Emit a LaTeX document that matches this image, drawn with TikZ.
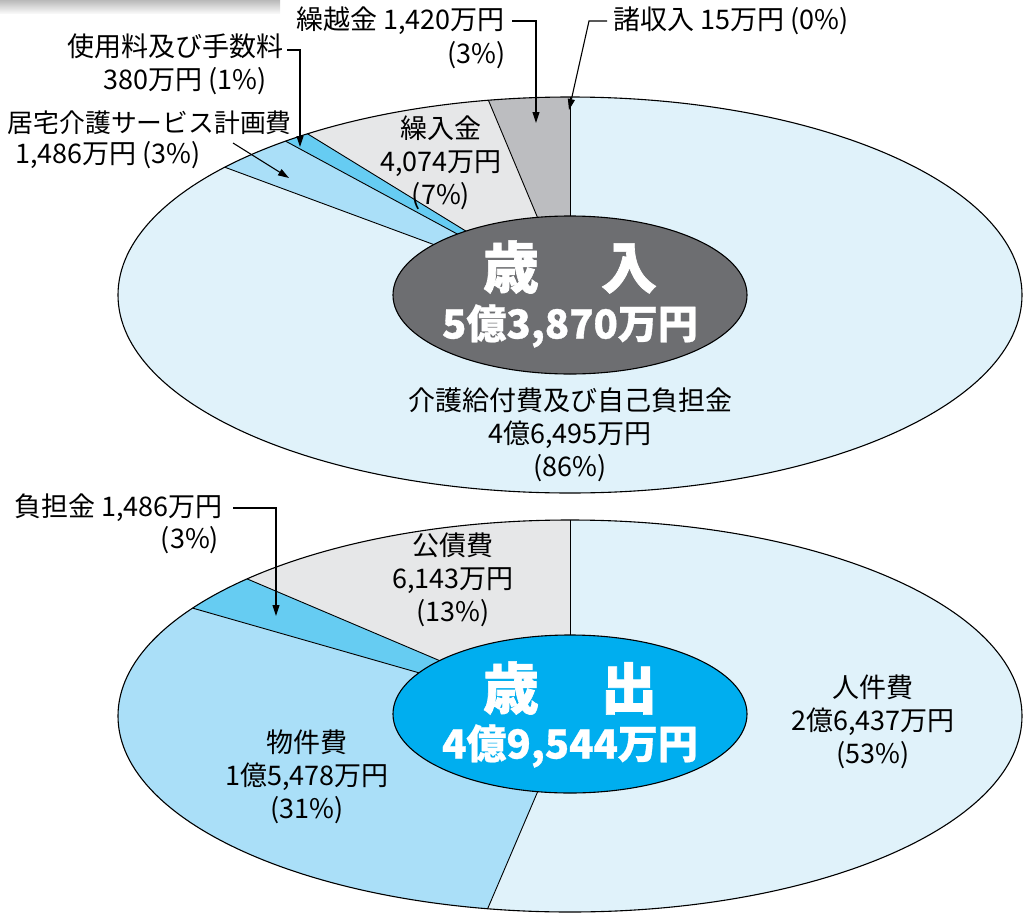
\documentclass[tikz,border=0pt]{standalone}
\usepackage{fontspec}
\setmainfont{Noto Sans CJK JP}
\usetikzlibrary{arrows.meta,calc,shapes.geometric}
\definecolor{pale}{HTML}{E0F2FA}
\definecolor{lblue}{HTML}{AADFF8}
\definecolor{mblue}{HTML}{66CCF2}
\definecolor{lgray}{HTML}{E6E7E8}
\definecolor{dgray}{HTML}{BCBDC0}
\definecolor{coreg}{HTML}{6D6E71}
\definecolor{coreb}{HTML}{00AEEF}
\begin{document}
\begin{tikzpicture}[x=1pt,y=-1pt,
  lbl/.style={inner sep=0pt, font=\fontsize{27}{33}\selectfont, align=center},
  lblsmall/.style={inner sep=0pt, font=\fontsize{25.8}{33}\selectfont, align=center},
  ttl/.style={inner sep=0pt, text=white, font=\bfseries\addfontfeatures{FakeBold=1.2}\fontsize{56}{60}\selectfont},
  amt/.style={inner sep=0pt, text=white, font=\bfseries\addfontfeatures{FakeBold=0.8}\fontsize{40}{44}\selectfont},
  radial/.style={draw=black, line width=0.9pt},
  rim/.style={draw=black, line width=1.1pt},
  leader/.style={draw=black, line width=1.1pt},
  leadarrow/.style={leader, -{Triangle[length=11pt,width=7pt]}},
  core/.style={draw=black, line width=1.1pt, ellipse, minimum width=354pt, minimum height=158pt, inner sep=0pt}]
\useasboundingbox (0,0) rectangle (1026,913);
% top-left gray bar
\shade[top color=gray!55, bottom color=gray!6] (0,0) rectangle (280,13);

% ================= upper pie =================
\coordinate (uc) at (570,295);
\foreach \n/\a in {0/90,1/100.4,2/125.5,3/129.0,4/139.8}
  \coordinate (u\n) at ($(uc)+(\a:452pt and 198pt)$);
\fill[pale] (uc) ellipse [x radius=452pt, y radius=198pt];
\fill[dgray] (uc) -- (u0) arc[start angle=90, end angle=100.4, x radius=452pt, y radius=198pt] -- cycle;
\fill[lgray] (uc) -- (u1) arc[start angle=100.4, end angle=125.5, x radius=452pt, y radius=198pt] -- cycle;
\fill[mblue] (uc) -- (u2) arc[start angle=125.5, end angle=129.0, x radius=452pt, y radius=198pt] -- cycle;
\fill[lblue] (uc) -- (u3) arc[start angle=129.0, end angle=139.8, x radius=452pt, y radius=198pt] -- cycle;
\foreach \n in {0,...,4} \draw[radial] (uc) -- (u\n);
\draw[rim] (uc) ellipse [x radius=452pt, y radius=198pt];
\node[core, fill=coreg] (ucore) at (uc) {};
\node[ttl] (uttl) at (570,267) {歳\hspace{62pt}入};
\node[amt] (uamt) at (570,326) {5億3,870万円};

% ================= lower pie =================
\coordinate (lc) at (570,716);
\foreach \n/\a in {0/90,1/135.6,2/146.6,3/259.5}
  \coordinate (l\n) at ($(lc)+(\a:452pt and 196pt)$);
\fill[pale] (lc) ellipse [x radius=452pt, y radius=196pt];
\fill[lgray] (lc) -- (l0) arc[start angle=90, end angle=135.6, x radius=452pt, y radius=196pt] -- cycle;
\fill[mblue] (lc) -- (l1) arc[start angle=135.6, end angle=146.6, x radius=452pt, y radius=196pt] -- cycle;
\fill[lblue] (lc) -- (l2) arc[start angle=146.6, end angle=259.5, x radius=452pt, y radius=196pt] -- cycle;
\foreach \n in {0,...,3} \draw[radial] (lc) -- (l\n);
\draw[rim] (lc) ellipse [x radius=452pt, y radius=196pt];
\node[core, fill=coreb] (lcore) at (570,714) {};
\node[ttl] (lttl) at (570,688) {歳\hspace{62pt}出};
\node[amt] (lamt) at (570,746) {4億9,544万円};

% ================= labels inside =================
\node[lbl] (kuri) at (441,163) {繰入金\\4,074万円\\(7\%)};
\node[lbl] (kaigo) at (570,435) {介護給付費及び自己負担金\\4億6,495万円\\(86\%)};
\node[lbl] (kosai) at (453,580) {公債費\\6,143万円\\(13\%)};
\node[lbl] (jinken) at (873,722) {人件費\\2億6,437万円\\(53\%)};
\node[lbl] (bukken) at (307,777) {物件費\\1億5,478万円\\(31\%)};

% ================= outside labels =================
\node[lbl, anchor=east] (k1) at (505,21) {繰越金 1,420万円};
\node[lbl, anchor=east] (k2) at (506,55) {(3\%)};
\node[lbl, anchor=west] (s1) at (613,21) {諸収入 15万円 (0\%)};
\node[lbl, anchor=east] (t1) at (284,46) {使用料及び手数料};
\node[lbl, anchor=east] (t2) at (267,81) {380万円 (1\%)};
\node[lblsmall, anchor=east] (j1) at (292,123) {居宅介護サービス計画費};
\node[lbl, anchor=west] (j2) at (15,155) {1,486万円 (3\%)};
\node[lbl, anchor=east] (f1) at (223,508) {負担金 1,486万円};
\node[lbl] (f2) at (190,540) {(3\%)};

% leaders
\coordinate (kA) at (512,21); \coordinate (kB) at (536,21); \coordinate (kT) at (536,123);
\draw[leadarrow] (kA) -- (kB) -- (kT);
\coordinate (sA) at (607,21); \coordinate (sB) at (589,21); \coordinate (sT) at (569,110);
\draw[leadarrow] (sA) -- (sB) -- (sT);
\coordinate (tA) at (287,50); \coordinate (tB) at (300,50); \coordinate (tT) at (300,147);
\draw[leadarrow] (tA) -- (tB) -- (tT);
\coordinate (jA) at (233,143); \coordinate (jT) at (289,178);
\draw[leadarrow] (jA) -- (jT);
\coordinate (fA) at (233,508); \coordinate (fB) at (276,508); \coordinate (fT) at (276,616);
\draw[leadarrow] (fA) -- (fB) -- (fT);
\end{tikzpicture}
\end{document}
